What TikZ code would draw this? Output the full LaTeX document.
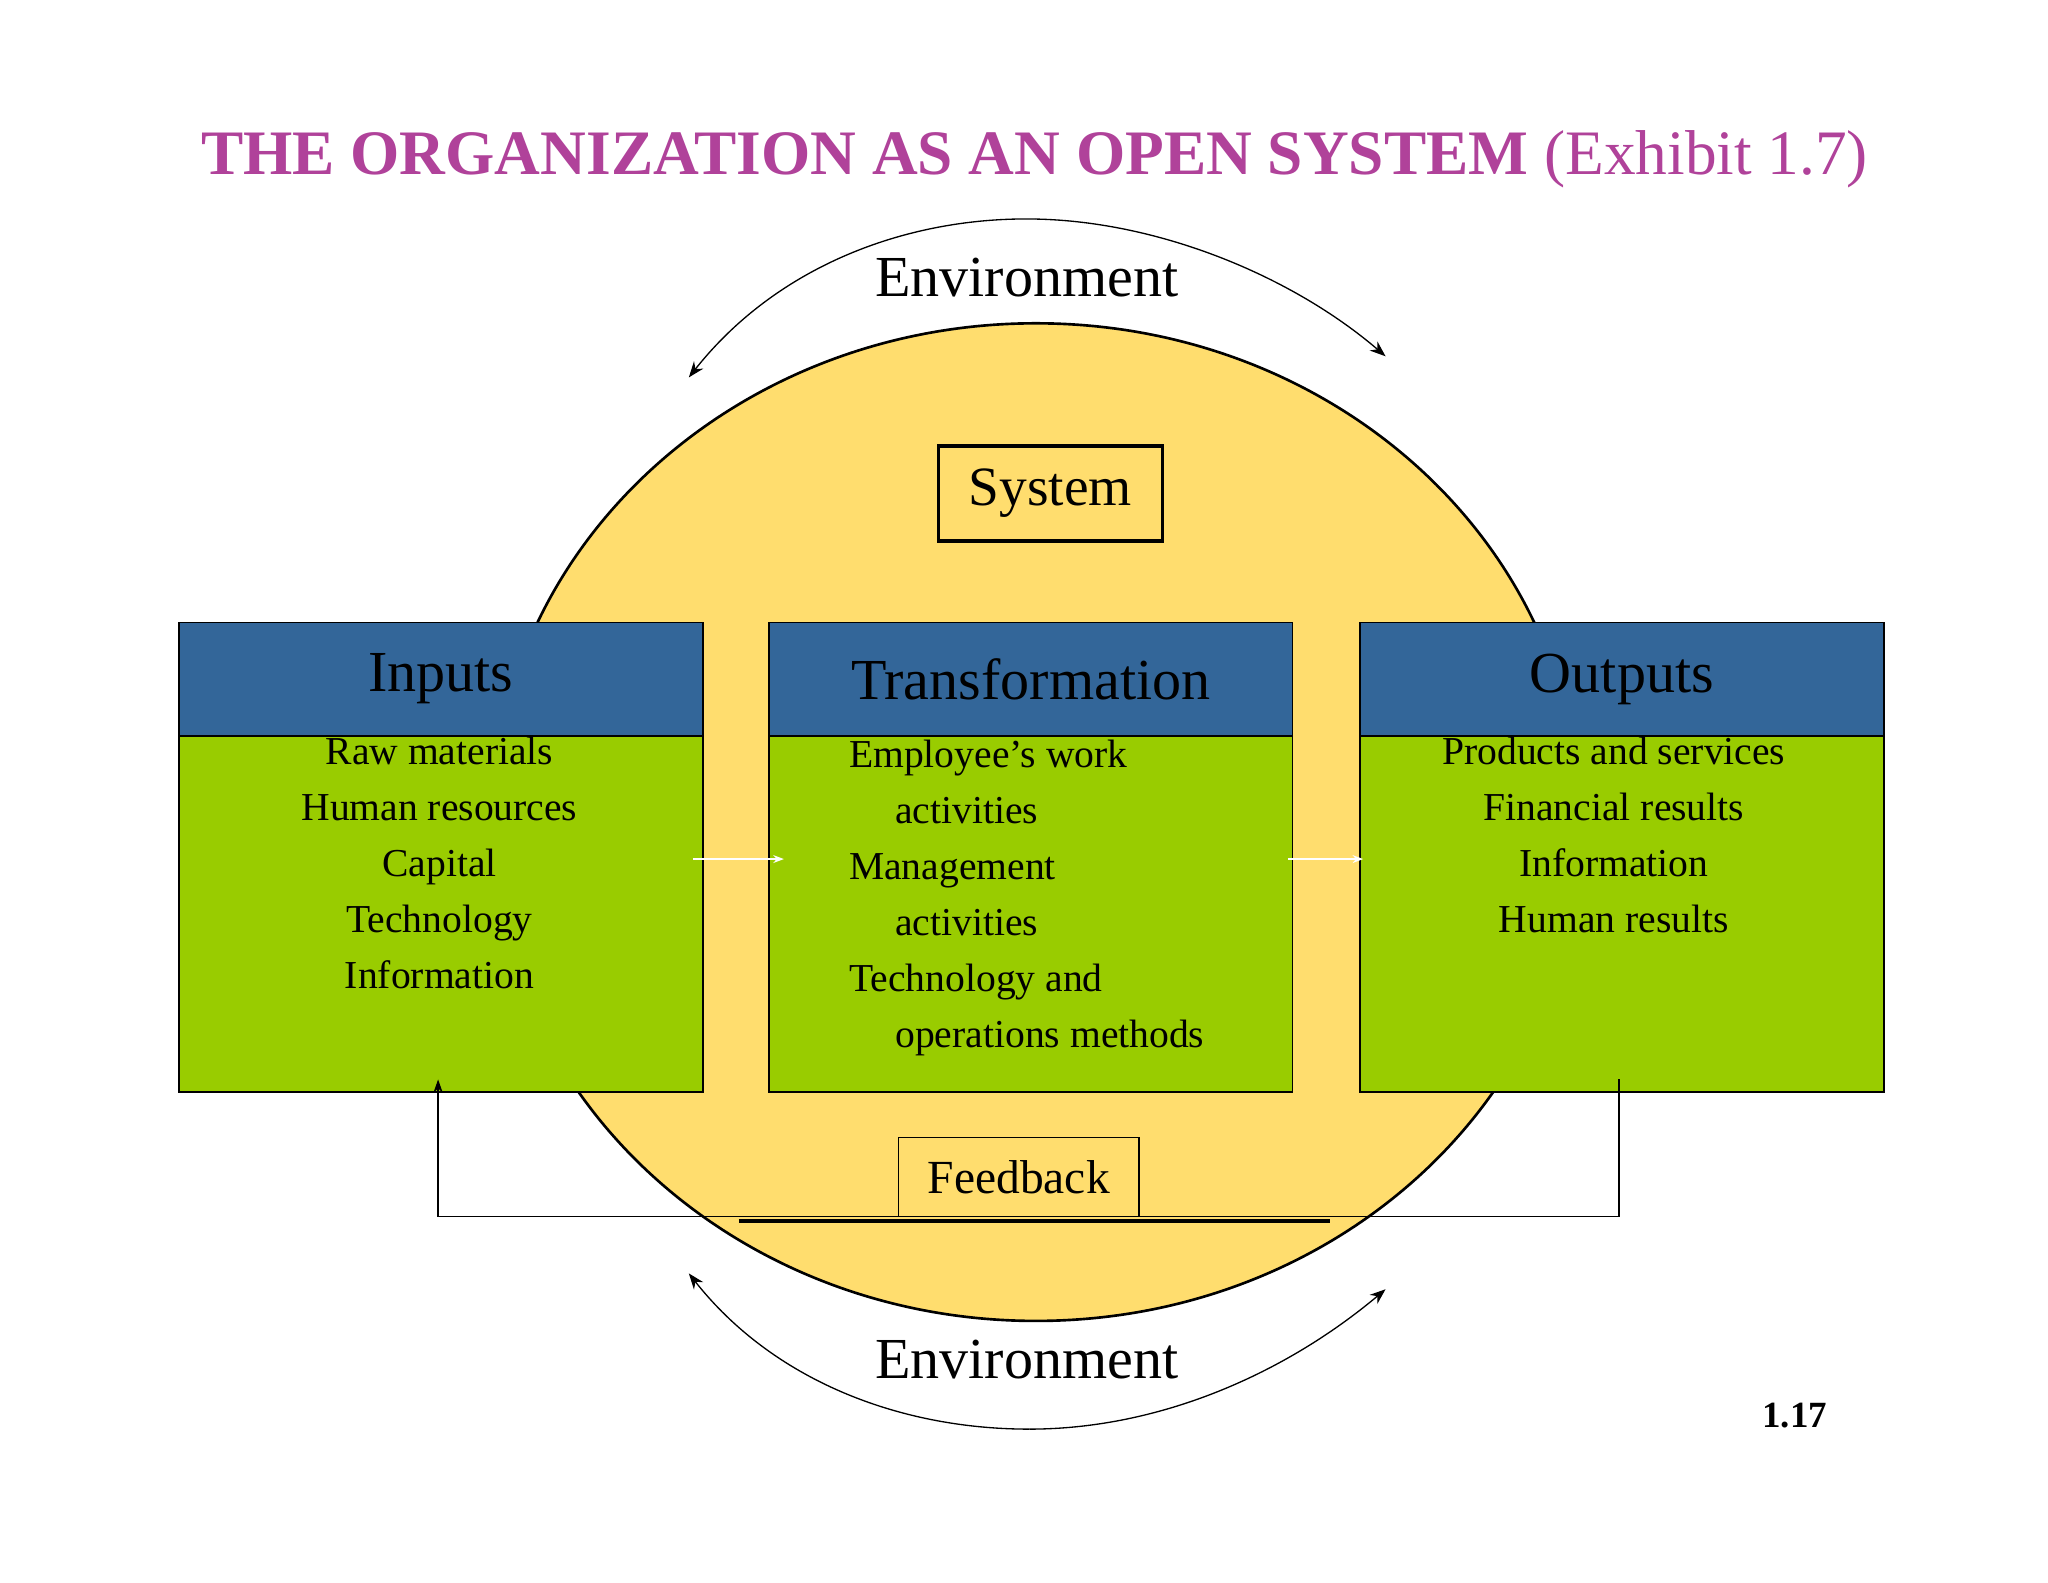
\documentclass[tikz,border=0pt]{standalone}
\usepackage{fontspec}
\setmainfont{Liberation Serif}
\usetikzlibrary{shapes.geometric,arrows.meta}
\definecolor{sunny}{HTML}{FFDD6E}
\definecolor{leaf}{HTML}{99CC00}
\definecolor{steel}{HTML}{336699}
\definecolor{plum}{HTML}{B0429A}
\begin{document}
\begin{tikzpicture}[x=1pt,y=-1pt,
  box/.style={draw=black,line width=1.2pt,fill=leaf,minimum width=397pt,minimum height=356pt,anchor=north west,inner sep=0},
  head/.style={draw=black,line width=1.2pt,fill=steel,minimum width=397pt,minimum height=86pt,anchor=north west,inner sep=0,font=\fontsize{44}{48}\selectfont},
  body/.style={font=\fontsize{30}{42.5}\selectfont,align=center,anchor=north},
  env/.style={font=\fontsize{44}{48}\selectfont},
  arc/.style={-{Stealth[length=12pt,width=9pt]},line width=1pt}]
\useasboundingbox (0,0) rectangle (1552,1199);
\fill[white] (0,0) rectangle (1552,1199);
\node[font=\bfseries\fontsize{48}{52}\selectfont,text=plum] (title) at (784,121) {THE ORGANIZATION AS AN OPEN SYSTEM \mdseries(Exhibit 1.7)};
\node[ellipse,draw=black,line width=2pt,fill=sunny,minimum width=824pt,minimum height=756pt,inner sep=0] (sys) at (785,623) {};
\node[draw=black,line width=2.5pt,minimum width=170pt,minimum height=72pt,font=\fontsize{42}{46}\selectfont] (syslabel) at (796,374) {System};
\foreach \n/\x/\t in {in/135/Inputs,tr/582/Transformation,out/1030/Outputs}{
  \node[box] (\n box) at (\x,471) {};
  \node[head] (\n head) at (\x,471) {\t};
}
\node[body] (intext) at (333,555) {Raw materials\\Human resources\\Capital\\Technology\\Information};
\node[body,align=left,anchor=north west] (trtext) at (640,557) {Employee’s work\\\hspace*{35pt}activities\\Management\\\hspace*{35pt}activities\\Technology and\\\hspace*{35pt}operations methods};
\node[body] (outtext) at (1223,555) {Products and services\\Financial results\\Information\\Human results};
\coordinate (a1) at (525,651); \coordinate (a2) at (594,651);
\coordinate (b1) at (976,651); \coordinate (b2) at (1033,651);
\draw[white,line width=1pt,-{Stealth[length=8pt]}] (a1) -- (a2);
\draw[white,line width=1pt,-{Stealth[length=8pt]}] (b1) -- (b2);
\node[draw=black,line width=1.2pt,fill=sunny,minimum width=182pt,minimum height=60pt,font=\fontsize{36}{40}\selectfont] (fb) at (772,892) {Feedback};
\coordinate (l1) at (560,925); \coordinate (l2) at (1008,925);
\draw[line width=3pt] (l1) -- (l2);
\coordinate (f1) at (1227,818); \coordinate (f2) at (1227,922); \coordinate (f3) at (332,922); \coordinate (f4) at (332,818);
\draw[line width=1pt,-{Stealth[length=10pt,width=7pt]}] (f1) -- (f2) -- (f3) -- (f4);
\node[env] (envtop) at (778,210) {Environment};
\node[env] (envbot) at (778,1030) {Environment};
\coordinate (t1) at (785,166); \coordinate (t2) at (522,286); \coordinate (t3) at (1050,270);
\draw[arc] (t1) .. controls (690,164) and (590,200) .. (t2);
\draw[arc] (t1) .. controls (880,168) and (980,210) .. (t3);
\coordinate (u1) at (780,1083); \coordinate (u2) at (522,965); \coordinate (u3) at (1050,977);
\draw[arc] (u1) .. controls (680,1083) and (585,1045) .. (u2);
\draw[arc] (u1) .. controls (880,1083) and (975,1040) .. (u3);
\node[font=\bfseries\fontsize{28}{30}\selectfont] (pg) at (1360,1073) {1.17};
\end{tikzpicture}
\end{document}
